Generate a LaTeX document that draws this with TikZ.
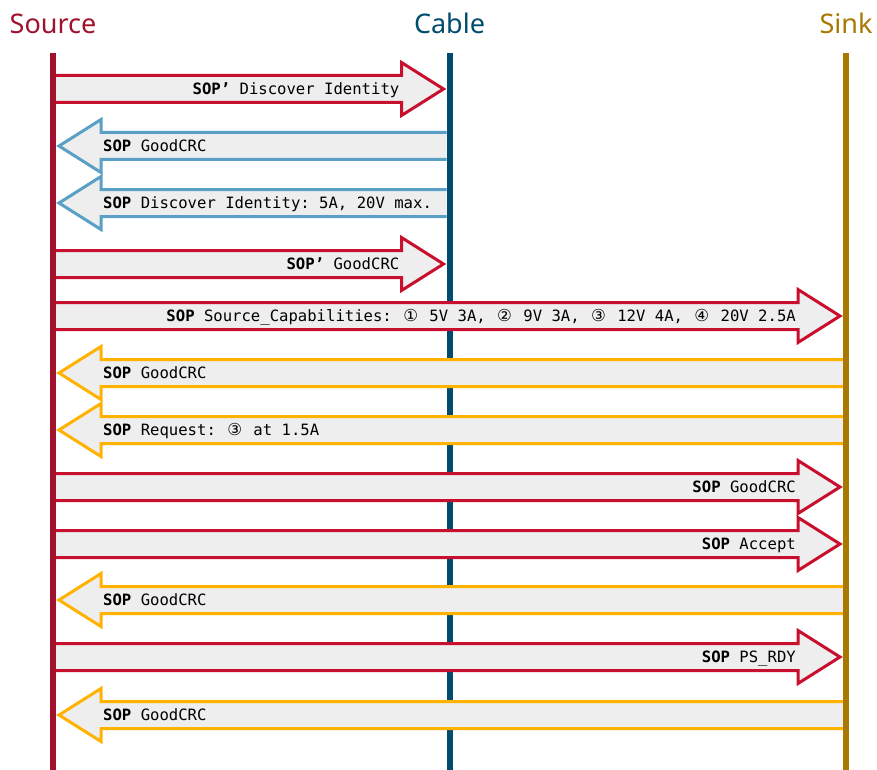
\documentclass[tikz,border=0pt]{standalone}
\usepackage{fontspec}
\usetikzlibrary{calc}
\newfontfamily\headfont{Noto Sans}
\newfontfamily\monofont{DejaVu Sans Mono}
\newfontfamily\circfont{DejaVu Sans}
\definecolor{srcdark}{HTML}{A0112D}
\definecolor{srcarrow}{HTML}{C8102E}
\definecolor{cabdark}{HTML}{004B6E}
\definecolor{cabarrow}{HTML}{5A9FC6}
\definecolor{snkdark}{HTML}{A87800}
\definecolor{snkarrow}{HTML}{FFB300}
\definecolor{msgfill}{HTML}{EEEEEE}
\newcommand\cnum[1]{\makebox[18.8pt]{\circfont\fontsize{16.5}{18}\selectfont #1}}
% #1 y (px), #2 start lifeline, #3 end lifeline, #4 style, #5 text
\newcommand\msgR[5]{%
  \filldraw[#4] let \p1=(#2), \p2=(#3) in
    (\x1, {-#1pt+13.5pt}) -- ({\x2-48pt}, {-#1pt+13.5pt}) -- ({\x2-48pt}, {-#1pt+26.5pt})
    -- ({\x2-6pt}, {-#1pt}) -- ({\x2-48pt}, {-#1pt-26.5pt}) -- ({\x2-48pt}, {-#1pt-13.5pt})
    -- (\x1, {-#1pt-13.5pt});
  \path let \p2=(#3) in node[msgtext, anchor=base east] at ({\x2-50pt}, {-#1pt-5.5pt}) {#5};
}
\newcommand\msgL[5]{%
  \filldraw[#4] let \p1=(#2), \p2=(#3) in
    (\x1, {-#1pt+13.5pt}) -- ({\x2+48pt}, {-#1pt+13.5pt}) -- ({\x2+48pt}, {-#1pt+26.5pt})
    -- ({\x2+6pt}, {-#1pt}) -- ({\x2+48pt}, {-#1pt-26.5pt}) -- ({\x2+48pt}, {-#1pt-13.5pt})
    -- (\x1, {-#1pt-13.5pt});
  \path let \p2=(#3) in node[msgtext, anchor=base west] at ({\x2+50pt}, {-#1pt-5.5pt}) {#5};
}
\tikzset{
  msgbase/.style={fill=msgfill, line width=3pt, line join=miter},
  srcmsg/.style={msgbase, draw=srcarrow},
  cabmsg/.style={msgbase, draw=cabarrow},
  snkmsg/.style={msgbase, draw=snkarrow},
  msgtext/.style={inner sep=0pt, font=\monofont\fontsize{15.6}{18}\selectfont\frenchspacing},
  head/.style={inner sep=0pt, anchor=base, font=\headfont\fontsize{27}{30}\selectfont},
  lifeline/.style={line width=6pt},
}
\begin{document}
\begin{tikzpicture}[x=1pt, y=1pt]
\useasboundingbox (0,0) rectangle (877,-770);
% lifelines
\coordinate (src) at (53,-53);
\coordinate (cab) at (449.5,-53);
\coordinate (cabL) at (446.5,-53);
\coordinate (snk) at (846,-53);
\coordinate (srcE) at (53,-770);
\coordinate (cabE) at (449.5,-770);
\coordinate (snkE) at (846,-770);
% headers
\node[head, text=srcdark] (hsrc) at (53,-34) {Source};
\node[head, text=cabdark] (hcab) at (449.5,-34) {Cable};
\node[head, text=snkdark] (hsnk) at (846,-34) {Sink};
% cable lifeline lies behind the messages
\draw[lifeline, cabdark] (cab) -- (cabE);
% messages
\msgR{89}{src}{cab}{srcmsg}{\textbf{SOP’} Discover Identity}
\msgL{146}{cabL}{src}{cabmsg}{\textbf{SOP} GoodCRC}
\msgL{203}{cabL}{src}{cabmsg}{\textbf{SOP} Discover Identity: 5A, 20V max.}
\msgR{264}{src}{cab}{srcmsg}{\textbf{SOP’} GoodCRC}
\msgR{316}{src}{snk}{srcmsg}{\textbf{SOP} Source\_Capabilities: \cnum{①} 5V 3A, \cnum{②} 9V 3A, \cnum{③} 12V 4A, \cnum{④} 20V 2.5A}
\msgL{373}{snk}{src}{snkmsg}{\textbf{SOP} GoodCRC}
\msgL{430}{snk}{src}{snkmsg}{\textbf{SOP} Request: \cnum{③} at 1.5A}
\msgR{487}{src}{snk}{srcmsg}{\textbf{SOP} GoodCRC}
\msgR{544}{src}{snk}{srcmsg}{\textbf{SOP} Accept}
\msgL{600}{snk}{src}{snkmsg}{\textbf{SOP} GoodCRC}
\msgR{657}{src}{snk}{srcmsg}{\textbf{SOP} PS\_RDY}
\msgL{715}{snk}{src}{snkmsg}{\textbf{SOP} GoodCRC}
% source and sink lifelines on top
\draw[lifeline, srcdark] (src) -- (srcE);
\draw[lifeline, snkdark] (snk) -- (snkE);
\end{tikzpicture}
\end{document}
